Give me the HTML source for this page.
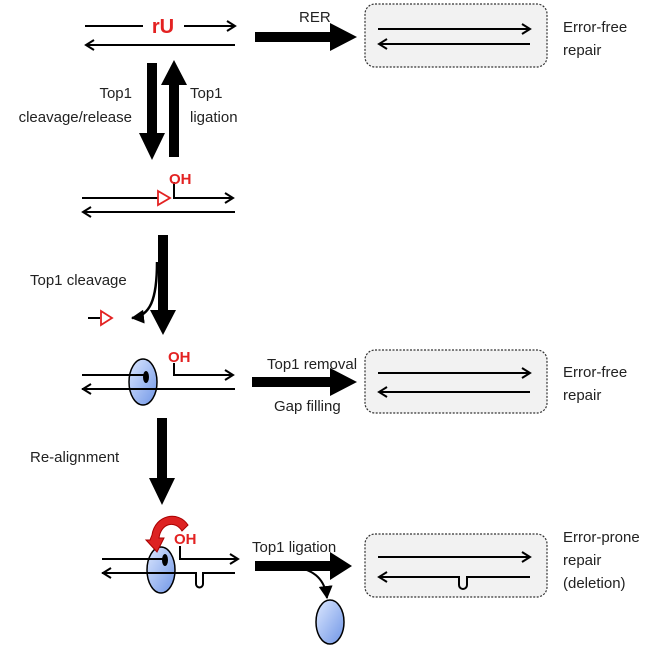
<!DOCTYPE html>
<html><head><meta charset="utf-8"><style>
html,body{margin:0;padding:0;background:#fff}
svg{display:block}
text{font-family:"Liberation Sans",sans-serif;font-size:15px;fill:#222}
.r{fill:#e32222;font-weight:bold}
</style></head><body>
<svg width="661" height="655" viewBox="0 0 661 655" xmlns="http://www.w3.org/2000/svg">
<defs>
<marker id="a" markerWidth="12" markerHeight="12" refX="10" refY="6" orient="auto" markerUnits="userSpaceOnUse">
<path d="M2,1 L10,6 L2,11" fill="none" stroke="#000" stroke-width="2"/></marker>
<marker id="t" markerWidth="14" markerHeight="14" refX="12" refY="7" orient="auto" markerUnits="userSpaceOnUse">
<path d="M0,0 L13,7 L0,14 z" fill="#000"/></marker>
<linearGradient id="g" x1="0" y1="0" x2="1" y2="1"><stop offset="0" stop-color="#dde8ff"/><stop offset="1" stop-color="#6f95e6"/></linearGradient>
</defs>
<g stroke="#000" stroke-width="2" fill="none">
<line x1="85" y1="26" x2="143" y2="26"/><line x1="184" y1="26" x2="235" y2="26" marker-end="url(#a)"/>
<line x1="235" y1="45" x2="86" y2="45" marker-end="url(#a)"/>
<line x1="82" y1="198" x2="158" y2="198"/>
<path d="M174,182 V198 H233" marker-end="url(#a)"/>
<line x1="235" y1="212" x2="83" y2="212" marker-end="url(#a)"/>
<line x1="88" y1="318" x2="100" y2="318"/>
<line x1="82" y1="375" x2="146" y2="375"/>
<path d="M174,363 V375 H233" marker-end="url(#a)"/>
<line x1="235" y1="389" x2="83" y2="389" marker-end="url(#a)"/>
<line x1="102" y1="559" x2="164" y2="559"/>
<path d="M180,546 V559 H238" marker-end="url(#a)"/>
<path d="M235,573 H203 V584 a3.5,3.5 0 0 1 -7,0 V573 H103" marker-end="url(#a)"/>
<path d="M157,262 C157,300 150,316 132,318" marker-end="url(#t)" stroke-width="2.5"/>
<path d="M295,567 C315,570 325,580 327,598" marker-end="url(#t)"/>
</g>
<g fill="#f2f2f2" stroke="#333" stroke-width="1.2" stroke-dasharray="2,1.5">
<rect x="365" y="4" width="182" height="63" rx="10"/>
<rect x="365" y="350" width="182" height="63" rx="10"/>
<rect x="365" y="534" width="182" height="63" rx="10"/>
</g>
<g fill="none" stroke="#000" stroke-width="2">
<line x1="378" y1="29" x2="530" y2="29" marker-end="url(#a)"/><line x1="530" y1="44" x2="379" y2="44" marker-end="url(#a)"/>
<line x1="378" y1="373" x2="530" y2="373" marker-end="url(#a)"/><line x1="530" y1="392" x2="379" y2="392" marker-end="url(#a)"/>
<line x1="378" y1="557" x2="530" y2="557" marker-end="url(#a)"/>
<path d="M530,577 H467 V585 a4,4 0 0 1 -8,0 V577 H379" marker-end="url(#a)"/>
</g>
<g fill="#000">
<path d="M255,32 H330 V23 L357,37 L330,51 V42 H255 z"/>
<path d="M252,377 H330 V368 L357,382 L330,396 V387 H252 z"/>
<path d="M255,561 H330 V552 L352,566 L330,580 V571 H255 z"/>
<path d="M147,63 H157 V133 H165 L152,160 L139,133 H147 z"/>
<path d="M169,157 H179 V85 H187 L174,60 L161,85 H169 z"/>
<path d="M158,235 H168 V310 H176 L163,335 L150,310 H158 z"/>
<path d="M157,418 H167 V478 H175 L162,505 L149,478 H157 z"/>
</g>
<path d="M158,191 L170,198 L158,205 z" fill="#fff" stroke="#e32222" stroke-width="1.8"/>
<path d="M101,311 L112,318 L101,325 z" fill="#fff" stroke="#e32222" stroke-width="1.8"/>
<g stroke="#000" stroke-width="1.5" fill="url(#g)">
<ellipse cx="143" cy="382" rx="14" ry="23"/>
<ellipse cx="161" cy="570" rx="14" ry="23"/>
<ellipse cx="330" cy="622" rx="14" ry="22"/>
</g>
<line x1="82" y1="389" x2="235" y2="389" stroke="#000" stroke-width="2"/>
<line x1="102" y1="573" x2="196" y2="573" stroke="#000" stroke-width="2"/>
<ellipse cx="146" cy="377" rx="3" ry="6" fill="#000"/>
<ellipse cx="165" cy="560" rx="3" ry="6" fill="#000"/>
<line x1="82" y1="375" x2="146" y2="375" stroke="#000" stroke-width="2"/>
<line x1="102" y1="559" x2="165" y2="559" stroke="#000" stroke-width="2"/>
<path d="M188,525 C178,510 155,515 152,535 L150,540 L146,540 L157,552 L164,538 L159,538 C161,523 175,520 182,531 z" fill="#d22" stroke="#a00" stroke-width="1"/>
<text x="163" y="33" class="r" style="font-size:20px" text-anchor="middle">rU</text>
<text x="299" y="22">RER</text>
<text x="563" y="32">Error-free</text><text x="563" y="55">repair</text>
<text x="132" y="98" text-anchor="end">Top1</text><text x="132" y="122" text-anchor="end">cleavage/release</text>
<text x="190" y="98">Top1</text><text x="190" y="122">ligation</text>
<text x="169" y="184" class="r">OH</text>
<text x="30" y="285">Top1 cleavage</text>
<text x="168" y="362" class="r">OH</text>
<text x="267" y="369">Top1 removal</text><text x="274" y="411">Gap filling</text>
<text x="563" y="377">Error-free</text><text x="563" y="400">repair</text>
<text x="30" y="462">Re-alignment</text>
<text x="174" y="544" class="r">OH</text>
<text x="252" y="552">Top1 ligation</text>
<text x="563" y="542">Error-prone</text><text x="563" y="565">repair</text><text x="563" y="588">(deletion)</text>
</svg>
</body></html>
